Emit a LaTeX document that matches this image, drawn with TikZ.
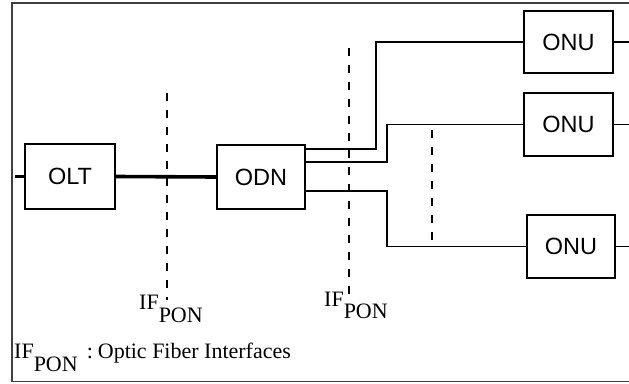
\documentclass[tikz,border=0pt]{standalone}
\usepackage{fontspec}
\setmainfont{Liberation Serif}
\newfontfamily\boxfont{Liberation Sans}
\begin{document}
\begin{tikzpicture}[x=1pt,y=-1pt,
  unit/.style={draw, line width=1.6pt, inner sep=0pt, font=\boxfont\fontsize{23.5}{23.5}\selectfont},
  link/.style={line width=1.6pt},
  thick link/.style={line width=3.6pt},
  ifline/.style={line width=1.6pt, dash pattern=on 8pt off 9pt},
  lbl/.style={anchor=base west, inner sep=0pt, font=\fontsize{22}{22}\selectfont},
  frame/.style={line width=1.8pt, draw=black!75}]
\useasboundingbox (0,0) rectangle (629,383);
% frame
\draw[frame] (640,3) -- (12,3) -- (12,381.5) -- (640,381.5);
% boxes
\node[unit, minimum width=90pt, minimum height=65pt] (olt) at (70,176.5) {OLT};
\node[unit, minimum width=88pt, minimum height=64pt] (odn) at (261,177) {ODN};
\node[unit, minimum width=89pt, minimum height=62pt] (onu1) at (568.5,42) {ONU};
\node[unit, minimum width=89pt, minimum height=63pt] (onu2) at (568.5,124.5) {ONU};
\node[unit, minimum width=88pt, minimum height=63pt] (onu3) at (571,246.5) {ONU};
% stubs
\draw[thick link] (olt.west) -- ++(-9,0);
\draw[link] (onu1.east) -- ++(20,0);
\draw[link] (onu2.east) -- ++(20,0);
\draw[link] (onu3.east) -- ++(20,0);
% trunk
\draw[thick link] (olt.east) -- (odn.west);
% branches
\draw[link] (odn.east |- 0,149) -- (376,149) |- (onu1.west);
\draw[link] (odn.east |- 0,162) -- (387,162) |- (onu2.west);
\draw[link] (odn.east |- 0,191) -- (387,191) |- (onu3.west);
% interface lines
\coordinate (d1t) at (167,93);  \coordinate (d1b) at (167,300);
\coordinate (d2t) at (349,48);  \coordinate (d2b) at (349,297);
\coordinate (d3t) at (432,130); \coordinate (d3b) at (432,243);
\draw[ifline] (d1t) -- (d1b);
\draw[ifline] (d2t) -- (d2b);
\draw[ifline] (d3t) -- (d3b);
% labels
\node[lbl] (if1) at (139,309) {IF\raisebox{-13pt}{PON}};
\node[lbl] (if2) at (324,306) {IF\raisebox{-12pt}{PON}};
\node[lbl] (legend) at (14,358) {IF\raisebox{-13pt}{PON}\hspace{9pt}:\hspace{5pt}Optic Fiber Interfaces};
\end{tikzpicture}
\end{document}
